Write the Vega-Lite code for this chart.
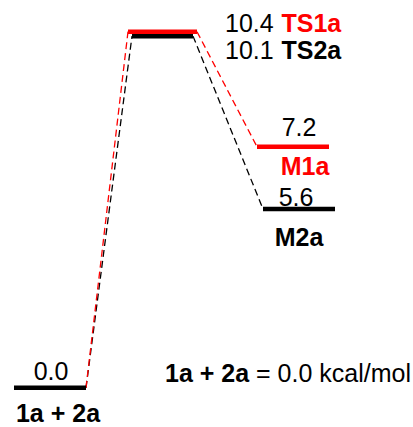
{
  "$schema": "https://vega.github.io/schema/vega-lite/v6.json",
  "width": 413,
  "height": 427,
  "autosize": {"type": "fit", "contains": "padding"},
  "padding": 0,
  "background": "white",
  "config": {"view": {"stroke": null}},
  "datasets": {
    "levels": [
      {"state": "1a + 2a", "path": "both", "x": 1.4, "x2": 8.6, "y": 0},
      {"state": "TS1a", "path": "a", "x": 12.8, "x2": 19.7, "y": 10.4},
      {"state": "TS2a", "path": "b", "x": 13.2, "x2": 19.3, "y": 10.27},
      {"state": "M1a", "path": "a", "x": 25.7, "x2": 32.9, "y": 7.04},
      {"state": "M2a", "path": "b", "x": 26.3, "x2": 33.5, "y": 5.22}
    ],
    "connectors": [
      {"path": "b", "x": 8.6, "y": 0, "x2": 13.2, "y2": 10.27},
      {"path": "b", "x": 19.3, "y": 10.27, "x2": 26.3, "y2": 5.22},
      {"path": "a", "x": 8.6, "y": 0, "x2": 12.8, "y2": 10.4},
      {"path": "a", "x": 19.7, "y": 10.4, "x2": 25.7, "y2": 7.04}
    ],
    "values": [
      {"text": "0.0", "path": "both", "x": 5.1, "y": 0.217, "align": "center"},
      {"text": "7.2", "path": "both", "x": 29.9, "y": 7.36, "align": "center"},
      {"text": "5.6", "path": "both", "x": 29.6, "y": 5.31, "align": "center"},
      {"text": "10.4", "path": "both", "x": 22.5, "y": 10.4, "align": "left"},
      {"text": "10.1", "path": "both", "x": 22.5, "y": 9.59, "align": "left"},
      {"text": "= 0.0 kcal/mol", "path": "both", "x": 25.6, "y": 0.159, "align": "left"}
    ],
    "names": [
      {"text": "1a + 2a", "path": "both", "x": 5.8, "y": -0.998, "align": "center"},
      {"text": "M1a", "path": "a", "x": 30.5, "y": 6.205, "align": "center"},
      {"text": "M2a", "path": "b", "x": 29.9, "y": 4.15, "align": "center"},
      {"text": "TS1a", "path": "a", "x": 28.15, "y": 10.4, "align": "left"},
      {"text": "TS2a", "path": "b", "x": 28.15, "y": 9.59, "align": "left"},
      {"text": "1a + 2a", "path": "both", "x": 16.5, "y": 0.159, "align": "left"}
    ]
  },
  "layer": [
    {
      "data": {"name": "connectors"},
      "mark": {"type": "rule", "strokeDash": [7, 4], "strokeWidth": 1.3},
      "encoding": {
        "x": {"field": "x", "type": "quantitative", "scale": {"domain": [0, 41.3], "nice": false, "zero": false}, "axis": null},
        "y": {"field": "y", "type": "quantitative", "scale": {"domain": [-1.027, 11.325], "nice": false, "zero": false}, "axis": null},
        "x2": {"field": "x2"},
        "y2": {"field": "y2"},
        "color": {"field": "path", "type": "nominal", "scale": {"domain": ["a", "b", "both"], "range": ["#ff0000", "#000000", "#000000"]}, "legend": null}
      }
    },
    {
      "data": {"name": "levels"},
      "mark": {"type": "rule", "strokeWidth": 4.5, "strokeCap": "butt"},
      "encoding": {
        "x": {"field": "x", "type": "quantitative"},
        "x2": {"field": "x2"},
        "y": {"field": "y", "type": "quantitative"},
        "color": {"field": "path", "type": "nominal"}
      }
    },
    {
      "data": {"name": "values"},
      "transform": [{"filter": "datum.align == 'center'"}],
      "mark": {"type": "text", "font": "Liberation Sans", "fontSize": 25, "baseline": "alphabetic", "align": "center"},
      "encoding": {
        "x": {"field": "x", "type": "quantitative"},
        "y": {"field": "y", "type": "quantitative"},
        "text": {"field": "text"},
        "color": {"field": "path", "type": "nominal"}
      }
    },
    {
      "data": {"name": "values"},
      "transform": [{"filter": "datum.align == 'left'"}],
      "mark": {"type": "text", "font": "Liberation Sans", "fontSize": 25, "baseline": "alphabetic", "align": "left"},
      "encoding": {
        "x": {"field": "x", "type": "quantitative"},
        "y": {"field": "y", "type": "quantitative"},
        "text": {"field": "text"},
        "color": {"field": "path", "type": "nominal"}
      }
    },
    {
      "data": {"name": "names"},
      "transform": [{"filter": "datum.align == 'center'"}],
      "mark": {"type": "text", "font": "Liberation Sans", "fontSize": 25, "fontWeight": "bold", "baseline": "alphabetic", "align": "center"},
      "encoding": {
        "x": {"field": "x", "type": "quantitative"},
        "y": {"field": "y", "type": "quantitative"},
        "text": {"field": "text"},
        "color": {"field": "path", "type": "nominal"}
      }
    },
    {
      "data": {"name": "names"},
      "transform": [{"filter": "datum.align == 'left'"}],
      "mark": {"type": "text", "font": "Liberation Sans", "fontSize": 25, "fontWeight": "bold", "baseline": "alphabetic", "align": "left"},
      "encoding": {
        "x": {"field": "x", "type": "quantitative"},
        "y": {"field": "y", "type": "quantitative"},
        "text": {"field": "text"},
        "color": {"field": "path", "type": "nominal"}
      }
    }
  ]
}
